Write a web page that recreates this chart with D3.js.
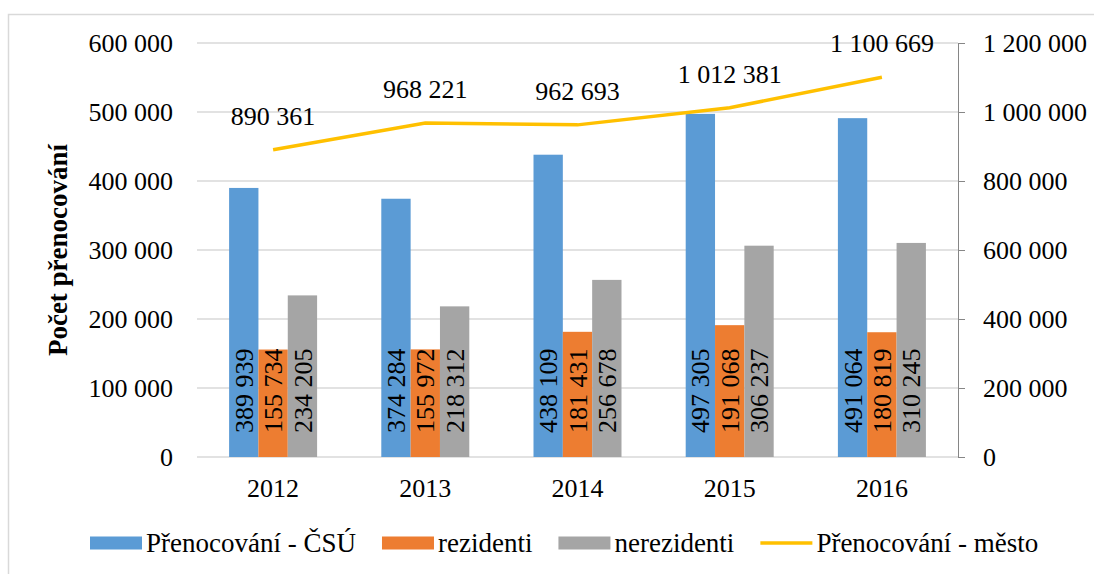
<!DOCTYPE html>
<html>
<head>
    <meta charset="utf-8">
    <title>Přenocování</title>
    <style type="text/css">
        body { margin: 0; background: #fff; }
        svg text { font-family: 'Liberation Serif', Tinos, 'Times New Roman', Times, serif !important; fill: #000; }
        .grid line { stroke: #d9d9d9; stroke-width: 1.5; }
        .axis-right path, .axis-right line { stroke: #868686; }
    </style>
</head>
<body>
<script src="https://cdn.jsdelivr.net/npm/d3@7"></script>
<script type="text/javascript">
    /*=========DATA=========*/
    var years = ['2012', '2013', '2014', '2015', '2016'];
    var seriesNames = ['Přenocování - ČSÚ', 'rezidenti', 'nerezidenti'];
    var csu = [389939, 374284, 438109, 497305, 491064];
    var rezidenti = [155734, 155972, 181431, 191068, 180819];
    var nerezidenti = [234205, 218312, 256678, 306237, 310245];
    var mesto = [890361, 968221, 962693, 1012381, 1100669];
    var lineName = 'Přenocování - město';
    var leftTicks = [0, 100000, 200000, 300000, 400000, 500000, 600000];
    var rightTicks = [0, 200000, 400000, 600000, 800000, 1000000, 1200000];

    /*===========COLOR=======*/
    var colors = ['#5b9bd5', '#ed7d31', '#a5a5a5'];
    var lineColor = '#ffc000';

    /*=====SIZE======*/
    var svgWidth = 1094, svgHeight = 574;
    var plot = { left: 197, right: 958, top: 43, bottom: 457 };
    var fontSize = 26;

    var locale = d3.formatLocale({ decimal: ',', thousands: ' ', grouping: [3], currency: ['', ''] });
    var fmt = locale.format(',d');

    var barData = years.map(function (y, i) {
        return { year: y, values: [csu[i], rezidenti[i], nerezidenti[i]] };
    });

    // 比例尺
    var x0 = d3.scaleBand().domain(years).range([plot.left, plot.right]);
    var groupWidth = 88;
    var x1 = d3.scaleBand().domain(d3.range(seriesNames.length)).range([0, groupWidth]);
    var yLeft = d3.scaleLinear().domain([0, 600000]).range([plot.bottom, plot.top]);
    var yRight = d3.scaleLinear().domain([0, 1200000]).range([plot.bottom, plot.top]);

    var svg = d3.select('body').append('svg').attr('width', svgWidth).attr('height', svgHeight);

    // 边框
    svg.append('rect')
        .attr('x', 8.5).attr('y', 14.5)
        .attr('width', 1100).attr('height', 600)
        .attr('fill', 'none').attr('stroke', '#d9d9d9').attr('stroke-width', 1.5);

    // 网格线
    svg.append('g').attr('class', 'grid')
        .selectAll('line').data(leftTicks).enter().append('line')
        .attr('x1', plot.left).attr('x2', plot.right)
        .attr('y1', function (d) { return yLeft(d); })
        .attr('y2', function (d) { return yLeft(d); });

    // 左轴
    var leftAxis = svg.append('g')
        .attr('transform', 'translate(' + plot.left + ',0)')
        .call(d3.axisLeft(yLeft).tickValues(leftTicks).tickFormat(fmt).tickSize(0).tickPadding(24));
    leftAxis.select('.domain').remove();
    leftAxis.attr('font-family', null).attr('font-size', null);
    leftAxis.selectAll('text').style('font-size', fontSize + 'px').attr('fill', '#000');

    // 右轴
    var rightAxis = svg.append('g').attr('class', 'axis-right')
        .attr('transform', 'translate(' + plot.right + ',0)')
        .call(d3.axisRight(yRight).tickValues(rightTicks).tickFormat(fmt).tickSize(7).tickSizeOuter(0).tickPadding(18));
    rightAxis.attr('font-family', null).attr('font-size', null);
    rightAxis.selectAll('text').style('font-size', fontSize + 'px').attr('fill', '#000');

    // x 轴标签
    svg.append('g').selectAll('text').data(years).enter().append('text')
        .attr('x', function (d) { return x0(d) + x0.bandwidth() / 2; })
        .attr('y', 497)
        .attr('text-anchor', 'middle')
        .style('font-size', fontSize + 'px')
        .text(function (d) { return d; });

    // 柱子
    var groups = svg.append('g').selectAll('g').data(barData).enter().append('g')
        .attr('transform', function (d) {
            return 'translate(' + (x0(d.year) + (x0.bandwidth() - groupWidth) / 2) + ',0)';
        });

    groups.selectAll('rect').data(function (d) { return d.values; }).enter().append('rect')
        .attr('x', function (d, i) { return x1(i); })
        .attr('y', function (d) { return yLeft(d); })
        .attr('width', x1.bandwidth())
        .attr('height', function (d) { return plot.bottom - yLeft(d); })
        .attr('fill', function (d, i) { return colors[i]; });

    // 柱内数据标注
    groups.selectAll('.blabel').data(function (d) { return d.values; }).enter().append('text')
        .attr('class', 'blabel')
        .attr('transform', function (d, i) {
            return 'translate(' + (x1(i) + x1.bandwidth() / 2) + ',' + (plot.bottom - 24) + ') rotate(-90)';
        })
        .attr('dy', '0.35em')
        .style('font-size', fontSize + 'px')
        .text(function (d) { return fmt(d); });

    // 折线
    var line = d3.line()
        .x(function (d, i) { return x0(years[i]) + x0.bandwidth() / 2; })
        .y(function (d) { return yRight(d); });

    svg.append('path')
        .attr('d', line(mesto))
        .attr('fill', 'none')
        .attr('stroke', lineColor)
        .attr('stroke-width', 3.5);

    svg.append('g').selectAll('text').data(mesto).enter().append('text')
        .attr('x', function (d, i) { return x0(years[i]) + x0.bandwidth() / 2; })
        .attr('y', function (d) { return yRight(d) - 25; })
        .attr('text-anchor', 'middle')
        .style('font-size', fontSize + 'px')
        .text(function (d) { return fmt(d); });

    // y 轴标题
    svg.append('text')
        .attr('transform', 'translate(67,' + ((plot.top + plot.bottom) / 2) + ') rotate(-90)')
        .attr('text-anchor', 'middle')
        .style('font-size', '27px')
        .style('font-weight', 'bold')
        .text('Počet přenocování');

    // 图例
    var legendItems = seriesNames.map(function (n, i) { return { name: n, color: colors[i], type: 'rect' }; });
    legendItems.push({ name: lineName, color: lineColor, type: 'line' });

    var legend = svg.append('g');
    var lx = 90, ly = 543;
    legendItems.forEach(function (item) {
        var g = legend.append('g').attr('transform', 'translate(' + lx + ',' + ly + ')');
        if (item.type === 'rect') {
            g.append('rect').attr('x', 0).attr('y', -6.5).attr('width', 52).attr('height', 13).attr('fill', item.color);
        } else {
            g.append('line').attr('x1', 0).attr('x2', 52).attr('y1', 0).attr('y2', 0)
                .attr('stroke', item.color).attr('stroke-width', 3.5);
        }
        var t = g.append('text').attr('x', 56).attr('y', 9)
            .style('font-size', '27px')
            .text(item.name);
        lx += 56 + t.node().getComputedTextLength() + 26;
    });
</script>
</body>
</html>
